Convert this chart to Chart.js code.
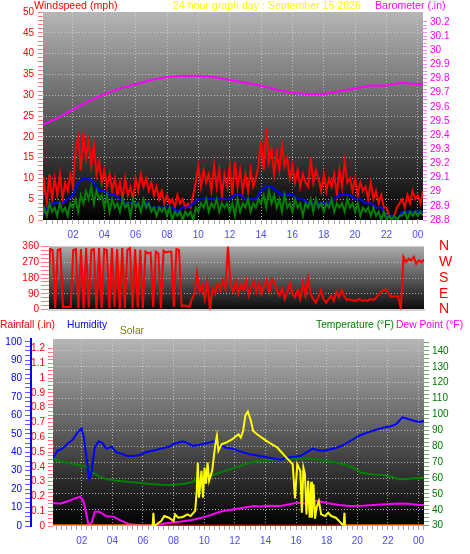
<!DOCTYPE html>
<html>
<head>
<meta charset="utf-8">
<title>24 hour graph</title>
<script src="https://cdn.jsdelivr.net/npm/chart.js@4.4.1/dist/chart.umd.min.js"></script>
<style>
  body { margin: 0; background: #fff; font-family: "Liberation Sans", Arial, sans-serif; }
  #wrap { position: relative; width: 470px; height: 554px; overflow: hidden; }
  canvas { position: absolute; left: 0; }
  .ttl { position: absolute; white-space: nowrap; line-height: 12px; }
</style>
</head>
<body>
<div id="wrap">
  <canvas id="windChart" width="470" height="250" style="top:0"></canvas>
  <canvas id="dirChart" width="470" height="80" style="top:238px"></canvas>
  <canvas id="tempChart" width="470" height="224" style="top:330px"></canvas>

  <div class="ttl" style="left:34px;top:-1px;font-size:10.6px;color:#ff0000">Windspeed (mph)</div>
  <div class="ttl" style="left:173px;top:-1px;font-size:10.6px;color:#ffff00">24 hour graph day : September 15 2026</div>
  <div class="ttl" style="left:375px;top:-1px;font-size:10.6px;color:#ff00ff">Barometer (.in)</div>

  <div class="ttl" style="left:0;top:319px;font-size:10.3px;color:#ff0000">Rainfall (.in)</div>
  <div class="ttl" style="left:67px;top:319px;font-size:10.3px;color:#0000ff">Humidity</div>
  <div class="ttl" style="left:120px;top:325px;font-size:10.3px;color:#808000">Solar</div>
  <div class="ttl" style="left:316px;top:319px;font-size:10.3px;color:#008000">Temperature (&deg;F)</div>
  <div class="ttl" style="left:396px;top:319px;font-size:10.3px;color:#ff00ff">Dew Point (&deg;F)</div>
</div>
<script>
Chart.defaults.font.family = '"Liberation Sans", Arial, sans-serif';
Chart.defaults.font.size = 10;

// ---------- data ----------
const labelHours = [2, 4, 6, 8, 10, 12, 14, 16, 18, 20, 22, 24];
const labelText = ['02', '04', '06', '08', '10', '12', '14', '16', '18', '20', '22', '00'];
const compass = ['N', 'E', 'S', 'W', 'N']; // 0, 90, 180, 270, 360 deg

// wind gust (mph), one reading every 10 minutes from midnight
const gust = [
  2, 9, 4, 11, 5, 10,
  6, 11, 5, 9, 7, 11,
  8, 17, 20, 12, 21, 15,
  19, 13, 18, 11, 14, 9,
  12, 8, 11, 7, 10, 6,
  9, 5, 10, 6, 8, 5,
  10, 7, 11, 8, 10, 7,
  9, 6, 8, 5, 7, 4,
  6, 4, 5, 3, 6, 4,
  5, 3, 4, 3, 6, 9,
  13, 8, 12, 9, 11, 7,
  13, 8, 12, 6, 11, 8,
  13, 6, 14, 8, 12, 7,
  11, 7, 12, 8, 10, 13,
  19, 12, 22, 14, 17, 11,
  16, 12, 18, 13, 15, 10,
  13, 9, 12, 8, 11, 9,
  8, 15, 9, 12, 10, 7,
  11, 7, 10, 8, 11, 6,
  12, 8, 14, 9, 10, 7,
  10, 6, 9, 7, 8, 5,
  9, 5, 7, 4, 6, 3,
  3, 1, 0, 1, 3, 4,
  5, 3, 6, 4, 7, 5,
  6, 4, 7
];

// wind speed (mph), every 10 minutes
const windSpeed = [
  0, 3, 1, 4, 2, 3,
  1, 4, 2, 3, 1, 4,
  3, 5, 2, 6, 4, 7,
  5, 8, 4, 7, 5, 6,
  3, 6, 2, 5, 3, 4,
  2, 5, 3, 4, 1, 5,
  3, 4, 2, 5, 3, 4,
  2, 3, 1, 3, 2, 3,
  1, 3, 0, 2, 1, 2,
  0, 2, 1, 2, 0, 3,
  2, 4, 3, 5, 2, 4,
  3, 5, 2, 4, 3, 4,
  2, 4, 1, 5, 2, 4,
  3, 5, 2, 4, 3, 5,
  4, 6, 3, 7, 4, 6,
  3, 5, 2, 6, 3, 4,
  2, 5, 3, 4, 1, 4,
  3, 5, 2, 5, 3, 4,
  2, 4, 3, 5, 2, 4,
  3, 4, 2, 5, 3, 4,
  2, 4, 1, 3, 2, 3,
  1, 3, 1, 2, 0, 2,
  0, 1, 0, 1, 0, 1,
  1, 2, 0, 2, 1, 2,
  1, 2, 1
];

// average wind (mph), every 20 minutes
const windAvg = [
  1, 3, 4,   4, 4, 5,   6, 9, 10,  10, 9, 7,
  7, 6, 6,   5, 4, 4,   4, 3, 4,   3, 3, 3,
  3, 3, 2,   3, 3, 4,   5, 5, 5,   5, 5, 5,
  5, 6, 6,   5, 5, 5,   7, 8, 8,   7, 6, 6,
  6, 5, 5,   4, 4, 4,   4, 4, 5,   6, 6, 6,
  5, 5, 4,   4, 3, 3,   1, 1, 0,   2, 2, 2,
  2, 2
];

const baroHours = [0, 1, 2, 3, 4, 5, 6, 7, 8, 9, 10, 11, 12, 13, 14, 15, 16, 17, 18, 19, 20, 21, 22, 23, 24, 24.33];
const barometer = [29.47, 29.52, 29.58, 29.64, 29.69, 29.73, 29.76, 29.79, 29.81, 29.82, 29.82, 29.81, 29.79,
  29.77, 29.75, 29.72, 29.70, 29.69, 29.69, 29.71, 29.73, 29.75, 29.75, 29.77, 29.76, 29.76];

// wind direction (degrees), every 10 minutes
const windDir = [
  10, 345, 340, 10, 340, 345,
  15, 15, 15, 15, 340, 345,
  10, 345, 8, 350, 12, 340,
  345, 5, 350, 10, 345, 340,
  8, 350, 15, 345, 5, 350,
  10, 340, 350, 8, 345, 12,
  340, 10, 330, 320, 325, 15,
  330, 320, 10, 335, 325, 330,
  330, 15, 345, 340, 20, 25,
  20, 15, 60, 90, 210, 100,
  140, 60, 160, 0, 120, 90,
  150, 110, 170, 120, 360, 140,
  100, 160, 90, 140, 110, 170,
  80, 130, 160, 100, 150, 90,
  130, 170, 100, 175, 150, 110,
  80, 120, 60, 100, 150, 90,
  70, 110, 60, 150, 80, 180,
  90, 60, 40, 70, 110, 60,
  40, 60, 80, 50, 100, 70,
  110, 80, 55, 60, 55, 50,
  55, 60, 50, 55, 50, 60,
  55, 60, 80, 95, 110, 115,
  100, 75, 75, 75, 75, 5,
  300, 270, 290, 280, 300, 260,
  280, 270, 285
];

const humHours = [0.12, 0.42, 0.73, 1.13, 1.43, 1.74, 1.99, 2.14, 2.34, 2.49, 2.65, 2.85, 3.1, 3.35, 3.6, 3.96,
  4.26, 4.67, 4.97, 5.37, 5.78, 6.18, 6.69, 7.19, 7.7, 8.0, 8.6, 8.91, 9.26, 9.61, 9.92, 10.22, 10.57, 11.03,
  11.43, 11.84, 12.34, 12.95, 13.65, 14.26, 14.97, 15.37, 15.78, 16.28, 16.68, 17.09, 17.49, 17.9, 18.65,
  19.11, 19.51, 20.12, 20.62, 21.13, 21.68, 22.14, 22.54, 22.95, 23.35, 23.75, 24.06, 24.36];
const humidity = [37, 41, 42, 45, 47, 51, 53, 48, 35, 26, 30, 42.5, 46, 45, 42, 43,
  40, 39, 38, 38, 38.5, 40, 41, 42, 43, 44.5, 46, 45, 43.5, 44, 44.5, 45, 46, 44,
  42.5, 42, 40.5, 39, 38, 37, 36, 37, 37.5, 38, 40, 42, 41, 41, 42.5,
  44, 46, 49, 50.7, 52, 53.4, 54, 55.3, 59, 58, 57, 56.5, 57];

const tempHours = [0.12, 0.63, 1.13, 1.64, 2.34, 2.75, 3.15, 3.66, 4.16, 4.97, 5.68, 6.48, 7.19, 8.0, 8.81,
  9.21, 9.72, 10.57, 11.23, 11.84, 12.34, 12.75, 13.25, 13.65, 14.26, 14.97, 15.78, 16.68, 17.29, 17.9,
  18.6, 19.31, 19.82, 20.22, 20.83, 21.68, 22.34, 22.74, 23.35, 24.06, 24.36];
const temperature = [71.8, 70.5, 69.5, 68.5, 67, 63, 61, 59.2, 58.5, 57.7, 57, 56.2, 55.8, 55.6, 56.5,
  57.5, 59.8, 61.9, 64, 66, 67.5, 69, 70.3, 70.9, 71.5, 71.8, 72.2, 72.4, 71.8, 70.9,
  69.8, 68.2, 66, 63.5, 62.5, 61.9, 60.5, 59.2, 59.5, 60.2, 60];

const dewHours = [0.12, 0.63, 1.13, 1.64, 1.89, 2.09, 2.24, 2.44, 2.65, 2.85, 3.15, 3.6, 4.06, 4.46, 5.07,
  5.68, 6.38, 6.99, 7.49, 8.4, 9.21, 10.12, 11.03, 11.74, 12.34, 13.25, 13.65, 14.26, 14.97, 15.57,
  16.08, 16.68, 17.39, 18.0, 18.81, 19.51, 20.32, 21.03, 21.84, 22.74, 23.35, 24.06, 24.36];
const dewPoint = [44.1, 44, 45.5, 47.5, 48.2, 46, 40, 30.4, 32, 38.8, 38.8, 36, 35.7, 33.6, 31,
  30.3, 30, 30.5, 31.5, 32.5, 33.6, 35.7, 38.8, 40, 41, 42.4, 42, 42.5, 42.4, 43.5,
  44.5, 43.8, 45.7, 44.3, 43, 42.4, 42.5, 43, 43.5, 44, 43.8, 43, 43];

const solarHours = [0.12, 6.63, 6.68, 6.73, 7.19, 7.39, 7.7, 8.0, 8.1, 8.3, 8.6, 8.91, 9.11, 9.41, 9.51,
  9.58, 9.66, 9.82, 9.92, 10.02, 10.12, 10.22, 10.32, 10.52, 10.62, 10.73, 10.83, 10.93, 11.13, 11.43,
  11.84, 12.24, 12.39, 12.54, 12.69, 12.85, 13.05, 13.2, 13.45, 14.06, 14.77, 15.37, 15.78, 15.93, 16.08,
  16.28, 16.38, 16.48, 16.58, 16.68, 16.79, 16.89, 16.99, 17.04, 17.14, 17.24, 17.34, 17.49, 17.64, 17.9,
  18.1, 18.3, 18.6, 18.91, 19.11, 19.16, 19.21, 24.36];
const solar = [0, 0, 72, 0, 27, 54, 45, 27, 63, 45, 49, 63, 54, 82, 190,
  344, 154, 299, 154, 317, 230, 344, 245, 299, 371, 444, 489, 408, 444, 453,
  471, 498, 480, 516, 600, 621, 571, 516, 498, 462, 426, 371, 335, 150, 335,
  299, 72, 317, 281, 63, 245, 45, 240, 45, 227, 40, 100, 136, 63, 54,
  72, 54, 45, 18, 0, 72, 0, 0];

const rainHours = [0, 24.36];
const rain = [0, 0];

// ---------- helpers ----------
const gridColor = 'rgba(215,215,215,0.75)';
const near = (a, b) => Math.abs(a - b) < 1e-3;
function everyStep(step, values) { return values.map((v, i) => ({x: i * step, y: v})); }
function paired(hours, values) { return values.map((v, i) => ({x: hours[i], y: v})); }
function steps(from, to, step) {
  const out = [];
  for (let k = 0; from + k * step <= to + 1e-9; k++) out.push(Math.round((from + k * step) * 1000) / 1000);
  return out;
}

const plotBackground = {
  id: 'plotBackground',
  beforeDraw(chart, args, opts) {
    const {ctx, chartArea: a} = chart;
    const g = ctx.createLinearGradient(0, a.top, 0, a.bottom);
    g.addColorStop(0, opts.from);
    g.addColorStop(1, opts.to);
    ctx.save();
    ctx.fillStyle = g;
    ctx.fillRect(a.left, a.top, a.width, a.height);
    ctx.restore();
  }
};
Chart.register(plotBackground);

function timeAxis(height, min, max) {
  return {
    type: 'linear', min: min, max: max,
    afterBuildTicks: s => { s.ticks = steps(0, 24.34, 1 / 3).filter(v => v >= min && v <= max).map(v => ({value: v})); },
    afterFit: s => { s.height = height; },
    ticks: {
      autoSkip: false, maxRotation: 0, color: '#4b4bff', padding: 5,
      callback: v => { const i = labelHours.findIndex(h => near(h, v)); return i < 0 ? '' : labelText[i]; }
    },
    grid: {
      color: c => (c.tick && labelHours.some(h => near(h, c.tick.value))) ? gridColor : 'transparent',
      tickColor: '#a8a8a8', tickLength: 4
    },
    border: { display: false, dash: [1, 2] }
  };
}

// note: chart.js adds ticks.padding to the half label height above/below the axis,
// so keep padding small and use (possibly invisible) tick length for the gap
function valueAxis(o) {
  return {
    type: 'linear', position: o.pos, min: o.min, max: o.max, weight: o.weight || 0,
    afterBuildTicks: s => { s.ticks = o.ticks.map(v => ({value: v})); },
    afterFit: s => { s.width = o.width; },
    ticks: { autoSkip: false, color: o.color, padding: o.pad, font: { size: o.size || 10 }, callback: o.label },
    grid: {
      display: true, drawOnChartArea: !!o.grid, drawTicks: o.tick > 0, tickLength: o.tick || 0,
      tickColor: o.tickColor || 'transparent',
      color: c => (o.grid && c.tick && o.grid(c.tick.value)) ? gridColor : 'transparent'
    },
    border: { display: !!o.line, color: o.line || 'transparent', width: 2, dash: [1, 2] }
  };
}

function baseOptions(padTop, from, to, scales) {
  return {
    responsive: false, animation: false, events: [],
    layout: { padding: { top: padTop, left: 0, right: 0, bottom: 0 } },
    elements: { point: { radius: 0 }, line: { tension: 0 } },
    plugins: { legend: { display: false }, tooltip: { enabled: false }, plotBackground: { from: from, to: to } },
    scales: scales
  };
}

// ---------- windspeed / barometer ----------
new Chart(document.getElementById('windChart'), {
  type: 'line',
  data: { datasets: [
    { label: 'Barometer', data: paired(baroHours, barometer), yAxisID: 'yBaro', borderColor: '#ff00ff', borderWidth: 2, order: 0 },
    { label: 'Wind speed', data: everyStep(1 / 6, windSpeed), yAxisID: 'y', borderColor: '#008000', borderWidth: 2, order: 1 },
    { label: 'Average', data: everyStep(1 / 3, windAvg), yAxisID: 'y', borderColor: '#0000ff', borderWidth: 2, order: 2 },
    { label: 'Gust', data: everyStep(1 / 6, gust), yAxisID: 'y', borderColor: '#ff0000', borderWidth: 2, order: 3 }
  ]},
  options: baseOptions(12, '#b6b6b6', '#000000', {
    x: timeAxis(30, 0.09, 24.33),
    y: valueAxis({ pos: 'left', min: 0, max: 50, width: 43, ticks: steps(0, 50, 1), color: '#ff0000', pad: 4,
      tick: 5, tickColor: '#ff7a7a', label: v => v % 5 === 0 ? String(v) : '',
      grid: v => v % 5 === 0 && v > 0 && v < 50 }),
    yBaro: valueAxis({ pos: 'right', min: 28.8, max: 30.27, width: 47, ticks: steps(28.8, 30.2, 0.025),
      color: '#ff00ff', pad: 3, tick: 4, tickColor: '#ff80ff',
      label: v => near((v - 28.8) * 10, Math.round((v - 28.8) * 10)) ? String(Math.round(v * 10) / 10) : '' })
  })
});

// ---------- wind direction ----------
new Chart(document.getElementById('dirChart'), {
  type: 'line',
  data: { datasets: [
    { label: 'Direction', data: everyStep(1 / 6, windDir), yAxisID: 'y', borderColor: '#ff0000', borderWidth: 2 }
  ]},
  options: baseOptions(8, '#acacac', '#0a0a0a', {
    x: { type: 'linear', min: 0.1, max: 24.33, afterFit: s => { s.height = 8; },
      ticks: { display: false }, grid: { display: false }, border: { display: true, color: '#d0d0d0', width: 2 } },
    y: valueAxis({ pos: 'left', min: 0, max: 360, width: 49, ticks: steps(0, 360, 22.5), color: '#ff0000', pad: 2,
      tick: 8, tickColor: '#ff7a7a', label: v => v % 90 === 0 ? String(v) : '',
      grid: v => v % 90 === 0 && v > 0 && v < 360 }),
    yCompass: valueAxis({ pos: 'right', min: 0, max: 360, width: 46, ticks: [0, 90, 180, 270, 360],
      color: '#ff0000', pad: 0, tick: 15, tickColor: 'transparent', size: 14,
      label: v => compass[Math.round(v / 90)] })
  })
});

// ---------- rainfall / humidity / solar / temperature ----------
const night = s => s.p0.parsed.y === 0 && s.p1.parsed.y === 0;
new Chart(document.getElementById('tempChart'), {
  type: 'line',
  data: { datasets: [
    { label: 'Solar', data: paired(solarHours, solar), yAxisID: 'ySolar', borderColor: '#ffff00', borderWidth: 2, order: 0,
      segment: { borderColor: s => night(s) ? '#ff9a00' : undefined, borderWidth: s => night(s) ? 3 : undefined } },
    { label: 'Humidity', data: paired(humHours, humidity), yAxisID: 'yHum', borderColor: '#0000ff', borderWidth: 2, order: 1 },
    { label: 'Temperature', data: paired(tempHours, temperature), yAxisID: 'yTemp', borderColor: '#008000', borderWidth: 2, order: 2 },
    { label: 'Dew Point', data: paired(dewHours, dewPoint), yAxisID: 'yTemp', borderColor: '#ff00ff', borderWidth: 2, order: 3 },
    { label: 'Rainfall', data: paired(rainHours, rain), yAxisID: 'yRain', borderColor: '#ff0000', borderWidth: 3, order: 4 }
  ]},
  options: baseOptions(9, '#b6b6b6', '#000000', {
    x: timeAxis(28, 0.12, 24.36),
    yRain: valueAxis({ pos: 'left', weight: 0, min: 0, max: 1.265, width: 22, ticks: steps(0, 1.2, 0.025),
      color: '#ff0000', pad: 3, tick: 5, tickColor: '#ff7a7a',
      label: v => near(v * 10, Math.round(v * 10)) ? String(Math.round(v * 10) / 10) : '' }),
    yHum: valueAxis({ pos: 'left', weight: 1, min: 0, max: 101.5, width: 31, ticks: steps(0, 100, 2.5),
      color: '#0000ff', pad: 3, tick: 6, tickColor: '#5a5aff', line: '#0000ff',
      label: v => v % 10 === 0 ? String(v) : '' }),
    yTemp: valueAxis({ pos: 'right', min: 29.8, max: 147.5, width: 46, ticks: steps(30, 145, 2.5),
      color: '#007a00', pad: 3, tick: 5, tickColor: '#6aaa6a',
      label: v => v % 10 === 0 ? String(v) : '', grid: v => v % 10 === 0 && v > 30 }),
    ySolar: { type: 'linear', display: false, min: 0, max: 1015 }
  })
});
</script>
</body>
</html>
